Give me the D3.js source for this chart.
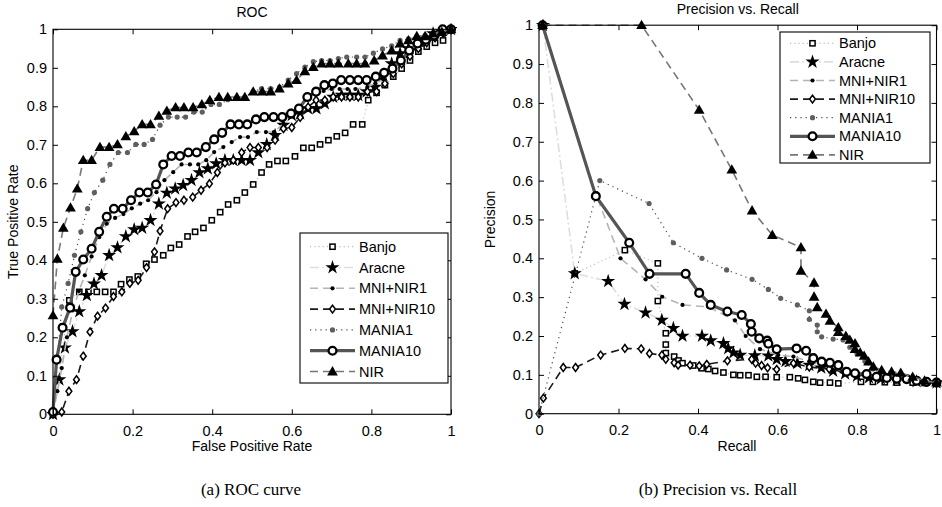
<!DOCTYPE html>
<html><head><meta charset="utf-8">
<script src="https://cdn.jsdelivr.net/npm/d3@7"></script>
<style>
html,body{margin:0;padding:0;background:#fff;}
svg{display:block;}
text{font-family:"Liberation Sans",Arial,Helvetica,sans-serif;fill:#000;}
.cap{font-family:"Liberation Serif","Times New Roman",serif;}
</style></head><body>
<svg id="c" width="942" height="507"></svg>
<script>
// ---------- DATA ----------
const seriesNames = ["Banjo","Aracne","MNI+NIR1","MNI+NIR10","MANIA1","MANIA10","NIR"];
const xTicksLabels = ["0","0.2","0.4","0.6","0.8","1"];
const yTicksLabels = ["0","0.1","0.2","0.3","0.4","0.5","0.6","0.7","0.8","0.9","1"];

// ROC curves: [FPR, TPR]
const rocBanjo = [[0,0],[0.041,0.296],[0.066,0.318],[0.089,0.318],[0.11,0.318],[0.131,0.318],[0.152,0.318],[0.171,0.338],[0.192,0.35],[0.213,0.358],[0.234,0.391],[0.255,0.402],[0.277,0.413],[0.296,0.432],[0.317,0.441],[0.338,0.462],[0.357,0.474],[0.378,0.484],[0.399,0.504],[0.42,0.525],[0.44,0.545],[0.462,0.556],[0.482,0.576],[0.503,0.597],[0.524,0.628],[0.543,0.649],[0.564,0.658],[0.585,0.658],[0.608,0.67],[0.629,0.692],[0.65,0.692],[0.671,0.701],[0.692,0.712],[0.713,0.722],[0.734,0.731],[0.754,0.753],[0.777,0.753],[0.792,0.816],[0.813,0.835],[0.834,0.855],[0.855,0.877],[0.876,0.898],[0.897,0.919],[0.918,0.942],[0.939,0.955],[0.96,0.965],[0.98,0.971],[1,1]];
const rocAracne = [[0,0],[0.016,0.09],[0.03,0.173],[0.049,0.215],[0.066,0.267],[0.085,0.309],[0.103,0.339],[0.122,0.361],[0.141,0.413],[0.162,0.433],[0.183,0.462],[0.204,0.48],[0.224,0.484],[0.245,0.504],[0.266,0.547],[0.286,0.575],[0.307,0.586],[0.327,0.595],[0.348,0.608],[0.368,0.628],[0.389,0.638],[0.41,0.651],[0.432,0.66],[0.453,0.66],[0.474,0.66],[0.495,0.66],[0.516,0.68],[0.537,0.701],[0.558,0.725],[0.579,0.751],[0.6,0.777],[0.621,0.781],[0.641,0.794],[0.662,0.794],[0.683,0.807],[0.704,0.824],[0.725,0.829],[0.746,0.829],[0.767,0.829],[0.788,0.838],[0.809,0.85],[0.83,0.88],[0.851,0.911],[0.872,0.937],[0.893,0.95],[0.914,0.96],[0.935,0.975],[0.955,0.989],[0.977,0.993],[1,1]];
const rocMniNir1 = [[0,0],[0.011,0.06],[0.022,0.12],[0.035,0.2],[0.05,0.27],[0.065,0.32],[0.08,0.361],[0.097,0.41],[0.116,0.46],[0.135,0.495],[0.156,0.51],[0.177,0.52],[0.198,0.535],[0.219,0.547],[0.239,0.556],[0.26,0.577],[0.28,0.608],[0.302,0.629],[0.323,0.649],[0.344,0.649],[0.365,0.649],[0.385,0.66],[0.405,0.681],[0.428,0.694],[0.449,0.707],[0.47,0.72],[0.49,0.72],[0.512,0.733],[0.535,0.733],[0.555,0.733],[0.579,0.755],[0.597,0.781],[0.618,0.794],[0.639,0.82],[0.66,0.83],[0.68,0.84],[0.7,0.845],[0.72,0.845],[0.74,0.845],[0.76,0.845],[0.79,0.85],[0.81,0.86],[0.83,0.87],[0.85,0.885],[0.87,0.91],[0.89,0.93],[0.91,0.95],[0.93,0.96],[0.955,0.975],[0.977,0.99],[1,1]];
const rocMniNir10 = [[0,0],[0.022,0.006],[0.04,0.06],[0.059,0.09],[0.076,0.151],[0.093,0.214],[0.112,0.255],[0.132,0.276],[0.152,0.306],[0.173,0.318],[0.193,0.34],[0.214,0.348],[0.235,0.381],[0.255,0.422],[0.269,0.476],[0.288,0.534],[0.309,0.55],[0.329,0.556],[0.351,0.564],[0.372,0.582],[0.393,0.599],[0.413,0.628],[0.432,0.653],[0.453,0.66],[0.474,0.68],[0.495,0.693],[0.516,0.693],[0.538,0.693],[0.558,0.712],[0.579,0.742],[0.6,0.745],[0.621,0.771],[0.641,0.798],[0.661,0.816],[0.683,0.816],[0.704,0.824],[0.725,0.824],[0.746,0.824],[0.767,0.824],[0.79,0.838],[0.813,0.838],[0.834,0.859],[0.855,0.885],[0.876,0.91],[0.897,0.93],[0.918,0.95],[0.939,0.965],[0.96,0.978],[0.98,0.99],[1,1]];
const rocMania1 = [[0,0],[0.022,0.279],[0.038,0.34],[0.054,0.413],[0.07,0.474],[0.087,0.534],[0.104,0.576],[0.125,0.608],[0.143,0.649],[0.164,0.68],[0.187,0.68],[0.208,0.701],[0.229,0.701],[0.25,0.714],[0.269,0.751],[0.29,0.772],[0.312,0.772],[0.333,0.772],[0.354,0.785],[0.375,0.785],[0.397,0.805],[0.418,0.805],[0.439,0.817],[0.462,0.824],[0.482,0.824],[0.503,0.838],[0.524,0.846],[0.547,0.846],[0.569,0.85],[0.591,0.868],[0.612,0.885],[0.633,0.902],[0.654,0.916],[0.675,0.919],[0.696,0.919],[0.717,0.924],[0.738,0.928],[0.763,0.928],[0.784,0.928],[0.805,0.938],[0.828,0.949],[0.851,0.957],[0.872,0.971],[0.893,0.975],[0.914,0.982],[0.935,0.985],[0.957,0.99],[0.978,0.995],[1,1]];
const rocMania10 = [[0,0.006],[0.009,0.142],[0.024,0.225],[0.043,0.277],[0.057,0.37],[0.076,0.402],[0.097,0.43],[0.116,0.474],[0.135,0.513],[0.153,0.534],[0.175,0.534],[0.196,0.556],[0.217,0.576],[0.238,0.576],[0.259,0.597],[0.277,0.649],[0.298,0.671],[0.319,0.671],[0.34,0.68],[0.361,0.68],[0.384,0.694],[0.405,0.714],[0.425,0.731],[0.446,0.753],[0.467,0.753],[0.488,0.753],[0.51,0.766],[0.531,0.772],[0.554,0.772],[0.576,0.772],[0.598,0.781],[0.618,0.794],[0.639,0.824],[0.661,0.838],[0.682,0.855],[0.703,0.859],[0.724,0.868],[0.746,0.868],[0.767,0.868],[0.788,0.868],[0.811,0.877],[0.832,0.887],[0.853,0.898],[0.874,0.919],[0.895,0.945],[0.916,0.963],[0.937,0.973],[0.958,0.984],[0.979,1],[1,1]];
const rocNir = [[0,0.257],[0.011,0.404],[0.026,0.484],[0.044,0.537],[0.061,0.586],[0.076,0.66],[0.097,0.66],[0.118,0.694],[0.141,0.694],[0.162,0.701],[0.183,0.722],[0.204,0.735],[0.224,0.753],[0.245,0.753],[0.266,0.775],[0.286,0.788],[0.308,0.797],[0.329,0.797],[0.352,0.797],[0.374,0.805],[0.394,0.816],[0.417,0.824],[0.439,0.824],[0.462,0.824],[0.482,0.824],[0.503,0.838],[0.526,0.838],[0.547,0.838],[0.569,0.846],[0.591,0.859],[0.612,0.868],[0.633,0.891],[0.654,0.902],[0.675,0.911],[0.696,0.911],[0.717,0.911],[0.742,0.911],[0.763,0.911],[0.784,0.911],[0.807,0.919],[0.828,0.932],[0.851,0.945],[0.872,0.963],[0.893,0.971],[0.914,0.982],[0.935,0.982],[0.955,0.989],[0.977,0.993],[1,1]];

// Precision-Recall curves: [Recall, Precision]
const prBanjo = [[0.09,0.361],[0.216,0.421],[0.299,0.387],[0.299,0.29],[0.319,0.207],[0.319,0.178],[0.319,0.156],[0.34,0.147],[0.351,0.137],[0.361,0.13],[0.388,0.124],[0.409,0.117],[0.426,0.115],[0.443,0.11],[0.464,0.106],[0.489,0.1],[0.506,0.099],[0.527,0.099],[0.548,0.095],[0.57,0.095],[0.598,0.094],[0.631,0.094],[0.652,0.091],[0.669,0.087],[0.69,0.082],[0.707,0.08],[0.732,0.08],[0.753,0.078],[0.81,0.082],[0.84,0.082],[0.87,0.081],[0.9,0.08],[0.94,0.08],[0.97,0.079],[1,0.078]];
const prAracne = [[0.01,1],[0.09,0.361],[0.174,0.341],[0.215,0.282],[0.268,0.26],[0.309,0.241],[0.338,0.22],[0.361,0.2],[0.41,0.2],[0.432,0.188],[0.464,0.181],[0.476,0.168],[0.489,0.157],[0.506,0.151],[0.543,0.15],[0.577,0.149],[0.598,0.14],[0.62,0.135],[0.65,0.13],[0.68,0.125],[0.71,0.118],[0.74,0.11],[0.77,0.103],[0.8,0.097],[0.83,0.093],[0.86,0.09],[0.9,0.087],[0.95,0.083],[1,0.08]];
const prMniNir1 = [[0.01,1],[0.145,0.56],[0.205,0.4],[0.268,0.346],[0.31,0.301],[0.361,0.28],[0.426,0.275],[0.493,0.24],[0.52,0.2],[0.556,0.166],[0.602,0.151],[0.64,0.147],[0.68,0.135],[0.72,0.125],[0.76,0.115],[0.8,0.105],[0.85,0.095],[0.9,0.09],[0.95,0.085],[1,0.08]];
const prMniNir10 = [[0,0],[0.011,0.04],[0.061,0.119],[0.092,0.119],[0.155,0.151],[0.216,0.168],[0.257,0.167],[0.278,0.155],[0.309,0.151],[0.319,0.14],[0.34,0.131],[0.35,0.125],[0.38,0.125],[0.403,0.123],[0.422,0.127],[0.474,0.136],[0.535,0.14],[0.545,0.13],[0.56,0.124],[0.575,0.118],[0.598,0.114],[0.64,0.13],[0.68,0.12],[0.73,0.115],[0.8,0.1],[0.85,0.095],[0.9,0.09],[0.95,0.085],[1,0.08]];
const prMania1 = [[0,0],[0.153,0.6],[0.277,0.541],[0.338,0.44],[0.41,0.4],[0.472,0.37],[0.536,0.346],[0.577,0.32],[0.608,0.297],[0.65,0.28],[0.68,0.265],[0.68,0.243],[0.7,0.228],[0.7,0.211],[0.711,0.198],[0.74,0.192],[0.765,0.19],[0.782,0.171],[0.8,0.154],[0.82,0.135],[0.84,0.115],[0.87,0.1],[0.9,0.092],[0.95,0.085],[1,0.08]];
const prMania10 = [[0.009,1],[0.143,0.56],[0.227,0.44],[0.278,0.36],[0.369,0.36],[0.403,0.311],[0.432,0.28],[0.474,0.263],[0.51,0.254],[0.533,0.231],[0.535,0.211],[0.554,0.194],[0.574,0.188],[0.577,0.18],[0.598,0.166],[0.648,0.168],[0.672,0.162],[0.69,0.143],[0.711,0.134],[0.732,0.131],[0.753,0.125],[0.774,0.108],[0.795,0.104],[0.824,0.102],[0.849,0.095],[0.875,0.092],[0.9,0.09],[0.925,0.089],[0.95,0.085],[0.975,0.082],[1,0.08]];
const prNir = [[0.009,1],[0.258,1],[0.403,0.782],[0.485,0.628],[0.536,0.523],[0.587,0.46],[0.659,0.428],[0.659,0.368],[0.692,0.337],[0.692,0.301],[0.7,0.274],[0.722,0.257],[0.732,0.239],[0.753,0.222],[0.753,0.21],[0.772,0.2],[0.782,0.19],[0.795,0.181],[0.795,0.166],[0.808,0.157],[0.818,0.149],[0.829,0.134],[0.841,0.121],[0.862,0.112],[0.887,0.108],[0.91,0.105],[0.94,0.095],[0.97,0.085],[1,0.08]];

const rocData = [rocBanjo, rocAracne, rocMniNir1, rocMniNir10, rocMania1, rocMania10, rocNir];
const prData = [prBanjo, prAracne, prMniNir1, prMniNir10, prMania1, prMania10, prNir];

// ---------- STYLES ----------
const styles = [
  {stroke:"#bdbdbd", width:1.2, dash:"1.2,3", marker:"square"},
  {stroke:"#dedede", width:1.6, dash:"9,3,2,3", marker:"star"},
  {stroke:"#b4b4b4", width:1.6, dash:"8,5", marker:"dot"},
  {stroke:"#1a1a1a", width:1.6, dash:"8,5", marker:"diamond"},
  {stroke:"#4a4a4a", width:1.2, dash:"1.2,4", marker:"gdot"},
  {stroke:"#555555", width:3.2, dash:null, marker:"circle"},
  {stroke:"#777777", width:1.6, dash:"8,5", marker:"triangle"}
];

const svg = d3.select("#c");

function drawMarker(g, type, x, y) {
  if (type === "square") {
    g.append("rect").attr("x", x-2.6).attr("y", y-2.6).attr("width",5.2).attr("height",5.2)
      .attr("fill","#fff").attr("stroke","#000").attr("stroke-width",1.5);
  } else if (type === "star") {
    g.append("path").attr("d", d3.symbol(d3.symbolStar, 62)()).attr("transform",`translate(${x},${y})`)
      .attr("fill","#000");
  } else if (type === "dot") {
    g.append("circle").attr("cx",x).attr("cy",y).attr("r",2.1).attr("fill","#000");
  } else if (type === "diamond") {
    g.append("path").attr("d", `M0,-3.9L2.9,0L0,3.9L-2.9,0Z`).attr("transform",`translate(${x},${y})`)
      .attr("fill","#fff").attr("stroke","#000").attr("stroke-width",1.5);
  } else if (type === "gdot") {
    g.append("circle").attr("cx",x).attr("cy",y).attr("r",2.6).attr("fill","#5f5f5f");
  } else if (type === "circle") {
    g.append("circle").attr("cx",x).attr("cy",y).attr("r",3.9).attr("fill","#fff")
      .attr("stroke","#000").attr("stroke-width",2.3);
  } else if (type === "triangle") {
    g.append("path").attr("d", d3.symbol(d3.symbolTriangle, 50)()).attr("transform",`translate(${x},${y+0.8})`)
      .attr("fill","#000");
  }
}

function panel(opts) {
  const {x0,x1,yTop,yBot,data,title,xlabel,ylabel,xLabelX,yLabelX,titleY,legend} = opts;
  const xs = d3.scaleLinear().domain([0,1]).range([x0,x1]);
  const ys = d3.scaleLinear().domain([0,1]).range([yBot,yTop]);
  const g = svg.append("g");
  const line = d3.line().x(d=>xs(d[0])).y(d=>ys(d[1]));
  const clipId = "clip"+Math.round(x0);
  svg.append("clipPath").attr("id",clipId).append("rect")
    .attr("x",x0-6).attr("y",yTop-6).attr("width",x1-x0+12).attr("height",yBot-yTop+12);
  const plot = g.append("g").attr("clip-path",`url(#${clipId})`);
  data.forEach((ser,i)=>{
    const st = styles[i];
    const sg = plot.append("g");
    sg.append("path").attr("d",line(ser)).attr("fill","none").attr("stroke",st.stroke)
      .attr("stroke-width",st.width).attr("stroke-dasharray",st.dash).attr("stroke-linejoin","round");
    ser.forEach(d=>drawMarker(sg, st.marker, xs(d[0]), ys(d[1])));
  });
  // box
  g.append("rect").attr("x",x0).attr("y",yTop).attr("width",x1-x0).attr("height",yBot-yTop)
    .attr("fill","none").attr("stroke","#000").attr("stroke-width",1.1);
  // axes (ticks inward)
  const xt = xTicksLabels.map(Number);
  const yt = yTicksLabels.map(Number);
  const ax = g.append("g").attr("transform",`translate(0,${yBot})`)
    .call(d3.axisBottom(xs).tickValues(xt).tickFormat((d,i)=>xTicksLabels[i]).tickSizeInner(-5).tickSizeOuter(0).tickPadding(11));
  const axTop = g.append("g").attr("transform",`translate(0,${yTop})`)
    .call(d3.axisTop(xs).tickValues(xt).tickFormat("").tickSizeInner(-5).tickSizeOuter(0));
  const ay = g.append("g").attr("transform",`translate(${x0},0)`)
    .call(d3.axisLeft(ys).tickValues(yt).tickFormat((d,i)=>yTicksLabels[i]).tickSizeInner(-5).tickSizeOuter(0).tickPadding(6));
  const ayR = g.append("g").attr("transform",`translate(${x1},0)`)
    .call(d3.axisRight(ys).tickValues(yt).tickFormat("").tickSizeInner(-5).tickSizeOuter(0));
  [ax,axTop,ay,ayR].forEach(a=>{
    a.select(".domain").remove();
    a.selectAll("line").attr("stroke","#000").attr("stroke-width",1);
    a.selectAll("text").attr("font-size","14.5px").attr("font-family","Liberation Sans, Arial, sans-serif").attr("fill","#000");
  });
  // title and labels
  g.append("text").attr("x",(x0+x1)/2).attr("y",titleY).attr("text-anchor","middle")
    .attr("font-size","14px").text(title);
  g.append("text").attr("x",xLabelX).attr("y",451).attr("text-anchor","middle")
    .attr("font-size","14px").text(xlabel);
  g.append("text").attr("transform",`translate(${yLabelX},${(yTop+yBot)/2}) rotate(-90)`)
    .attr("text-anchor","middle").attr("font-size","14px").text(ylabel);
  // legend
  const L = legend;
  const lg = g.append("g");
  lg.append("rect").attr("x",L.x).attr("y",L.y).attr("width",L.w).attr("height",L.h)
    .attr("fill","#fff").attr("stroke","#000").attr("stroke-width",1.1);
  seriesNames.forEach((name,i)=>{
    const st = styles[i];
    const yy = L.y + L.first + i*L.step;
    lg.append("line").attr("x1",L.x+10).attr("x2",L.x+55).attr("y1",yy).attr("y2",yy)
      .attr("stroke",st.stroke).attr("stroke-width",st.width).attr("stroke-dasharray",st.dash);
    drawMarker(lg, st.marker, L.x+32.5, yy);
    lg.append("text").attr("x",L.x+59).attr("y",yy+5).attr("font-size","14.5px").text(name);
  });
}

panel({x0:53,x1:451,yTop:29.3,yBot:414.3,data:rocData,title:"ROC",titleY:17,
  xlabel:"False Positive Rate",ylabel:"True Positive Rate",xLabelX:252,yLabelX:18,
  legend:{x:300,y:233,w:148,h:150,first:13.7,step:20.8}});
panel({x0:539,x1:936.5,yTop:25.2,yBot:413.7,data:prData,title:"Precision vs. Recall",titleY:13.5,
  xlabel:"Recall",ylabel:"Precision",xLabelX:737,yLabelX:495,
  legend:{x:780,y:32,w:150,h:131,first:11.3,step:18.6}});

// captions
svg.append("text").attr("class","cap").attr("x",251).attr("y",495).attr("text-anchor","middle")
  .attr("font-size","17px").text("(a) ROC curve");
svg.append("text").attr("class","cap").attr("x",718).attr("y",495).attr("text-anchor","middle")
  .attr("font-size","17px").text("(b) Precision vs. Recall");
</script>
</body></html>
